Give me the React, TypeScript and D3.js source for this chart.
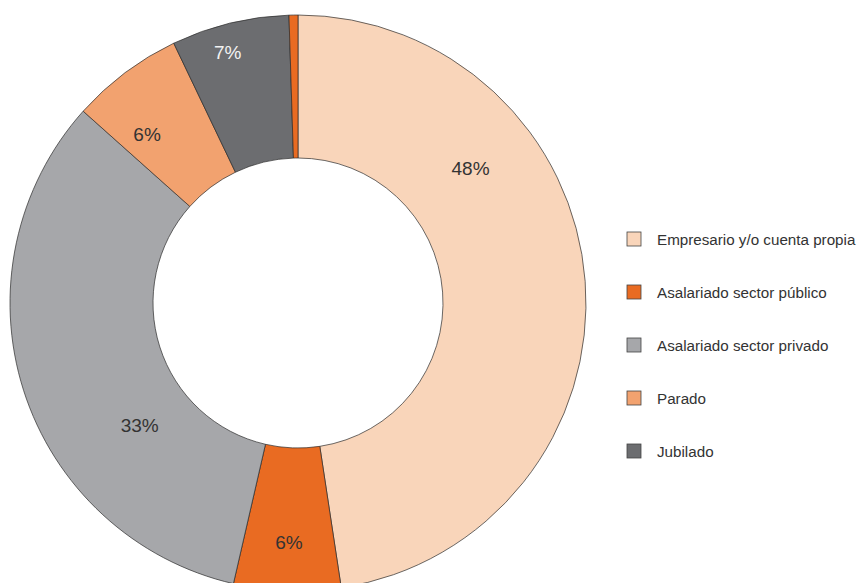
import { useMemo } from "react";
import * as d3 from "d3";

// Categories (in drawing order, clockwise from 12 o'clock)
const categories = [
  "Empresario y/o cuenta propia",
  "Asalariado sector público",
  "Asalariado sector privado",
  "Parado",
  "Jubilado",
  "Otros",
];
const values = [47.6, 6.0, 33.0, 6.3, 6.6, 0.5];
const colors = ["#F9D5BA", "#E96B22", "#A6A7AA", "#F2A26F", "#6C6D70", "#E96B22"];
const labelColors = ["#333333", "#333333", "#333333", "#333333", "#F2F2F2", "#333333"];
const showLabel = [true, true, true, true, true, false];
const legendCount = 5; // last slice is not listed

// label placement relative to the slice middle (degrees, px)
const labelShift = [-33.7, 0, -20, -5, -2, 0];
const labelRadius = [219, 240, 200, 226, 260, 0];

export default function App() {
  const width = 861;
  const height = 583;
  const cx = 298;
  const cy = 303;
  const outerR = 288;
  const innerR = 145;

  const arcs = useMemo(() => {
    const pie = d3.pie<number>().sort(null).startAngle(0).endAngle(2 * Math.PI);
    return pie(values);
  }, []);

  const arcGen = d3.arc<d3.PieArcDatum<number>>().innerRadius(innerR).outerRadius(outerR);

  return (
    <div style={{ position: "absolute", left: 0, top: 0 }}>
      <svg width={width} height={height} viewBox={`0 0 ${width} ${height}`} style={{ display: "block", background: "#fff" }}>
        <g transform={`translate(${cx},${cy})`}>
          {arcs.map((a, i) => (
            <path key={`s-${i}`} d={arcGen(a) ?? ""} fill={colors[i]} stroke="#2b2b2b" strokeWidth={0.7} />
          ))}
          {arcs.map((a, i) => {
            if (!showLabel[i]) return null;
            const mid = (a.startAngle + a.endAngle) / 2 + (labelShift[i] * Math.PI) / 180;
            const x = Math.sin(mid) * labelRadius[i];
            const y = -Math.cos(mid) * labelRadius[i];
            return (
              <text key={`l-${i}`} x={x} y={y} textAnchor="middle" dominantBaseline="central"
                style={{ fontFamily: "'Liberation Sans', Arial, sans-serif", fontSize: 19, fill: labelColors[i] }}>
                {`${Math.round(values[i])}%`}
              </text>
            );
          })}
        </g>

        {/* legend */}
        <g transform="translate(627,239)">
          {categories.slice(0, legendCount).map((c, i) => (
            <g key={`lg-${i}`} transform={`translate(0,${i * 53})`}>
              <rect x={0} y={-7} width={14} height={14} fill={colors[i]} stroke="#444" strokeWidth={0.8} />
              <text x={30} y={0} dominantBaseline="central"
                style={{ fontFamily: "'Liberation Sans', Arial, sans-serif", fontSize: 15.2, fill: "#333" }}>
                {c}
              </text>
            </g>
          ))}
        </g>
      </svg>
    </div>
  );
}
